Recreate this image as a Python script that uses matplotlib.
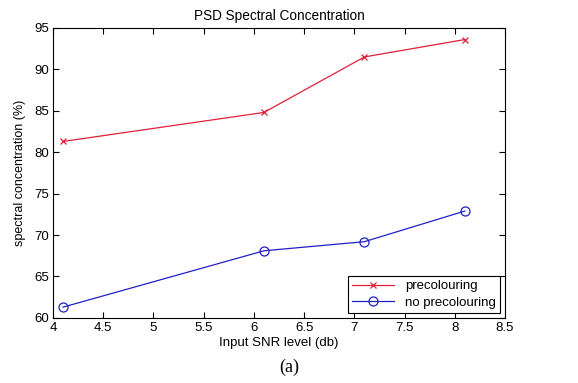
import matplotlib
matplotlib.use("Agg")
import matplotlib.pyplot as plt

snr_db = [4.1, 6.1, 7.1, 8.1]
precolouring = [81.3, 84.8, 91.5, 93.6]
no_precolouring = [61.3, 68.1, 69.2, 72.9]
x_ticks = [4, 4.5, 5, 5.5, 6, 6.5, 7, 7.5, 8, 8.5]
x_labels = ["4", "4.5", "5", "5.5", "6", "6.5", "7", "7.5", "8", "8.5"]
y_ticks = [60, 65, 70, 75, 80, 85, 90, 95]

plt.rcParams["font.family"] = ["Liberation Sans", "DejaVu Sans"]

fig = plt.figure(figsize=(5.78, 3.83), dpi=100)
ax = fig.add_axes([0.0917, 0.170, 0.782, 0.757])

ax.plot(snr_db, precolouring, color="#e0203a", linewidth=0.9, marker="x",
        markersize=5, markeredgewidth=0.9, label="precolouring")
ax.plot(snr_db, no_precolouring, color="#2020c8", linewidth=0.9, marker="o",
        markersize=6.5, markerfacecolor="none", markeredgewidth=0.9,
        label="no precolouring")

ax.set_xlim(4, 8.5)
ax.set_ylim(60, 95)
ax.set_xticks(x_ticks)
ax.set_xticklabels(x_labels)
ax.set_yticks(y_ticks)
ax.tick_params(direction="in", top=True, right=True, labelsize=9.5,
               length=4, width=0.8, pad=3)
for s in ax.spines.values():
    s.set_linewidth(0.8)

ax.set_title("PSD Spectral Concentration", fontsize=9.8, pad=6)
ax.set_xlabel("Input SNR level (db)", fontsize=9.5, labelpad=2)
ax.set_ylabel("spectral concentration (%)", fontsize=9, labelpad=6)

leg = ax.legend(loc="lower right", fontsize=9.5, frameon=True, fancybox=False,
                edgecolor="black", framealpha=1, borderaxespad=0.4,
                handlelength=3.2, borderpad=0.3, labelspacing=0.3)
leg.get_frame().set_linewidth(0.8)

fig.text(0.5, 0.042, "(a)", ha="center", va="center", fontsize=13,
         family=["Liberation Serif", "DejaVu Serif"])

fig.savefig("out.png", dpi=100)
